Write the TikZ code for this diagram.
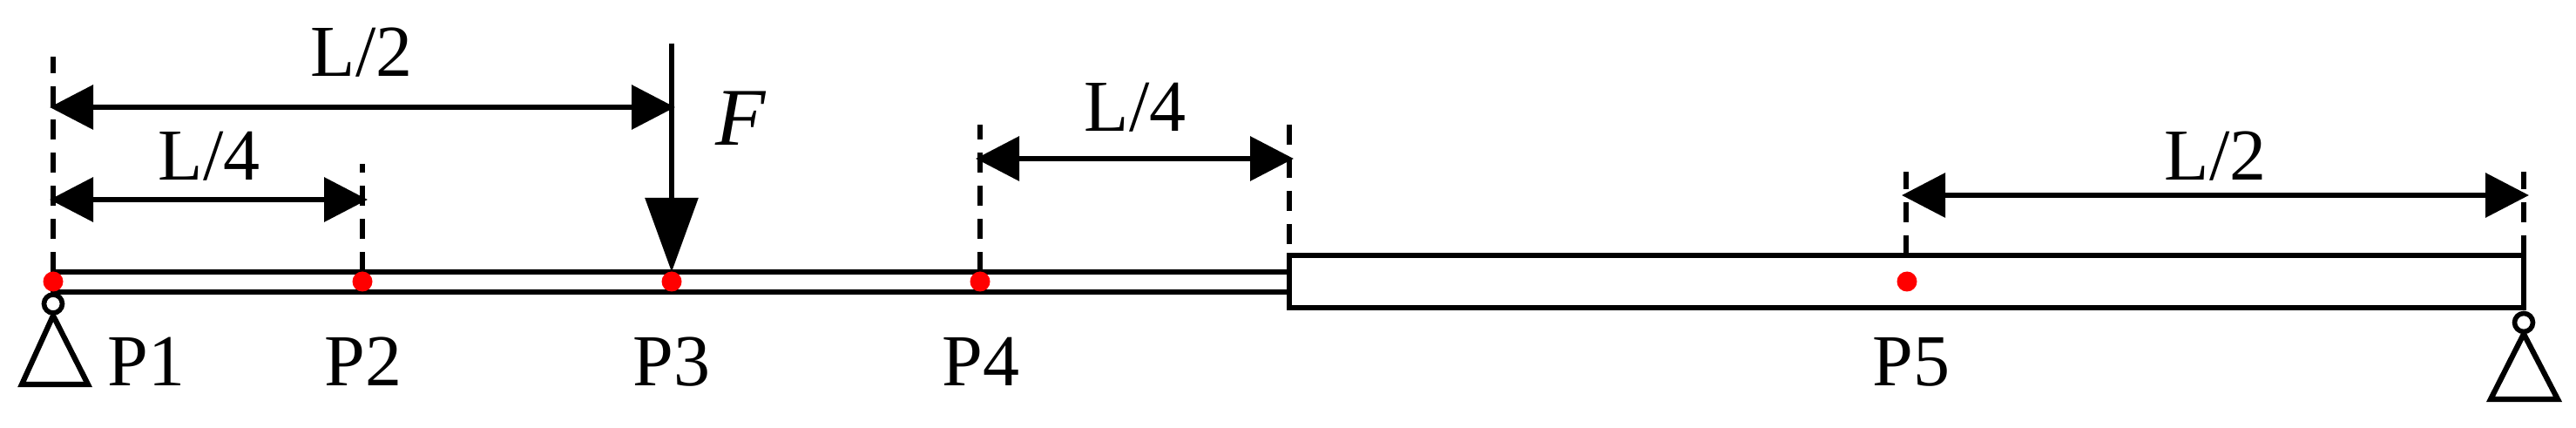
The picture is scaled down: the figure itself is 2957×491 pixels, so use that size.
\documentclass[tikz,border=0pt]{standalone}
\usepackage{fontspec}
\setmainfont{Liberation Serif}
\usetikzlibrary{arrows.meta}
\tikzset{
  lbl/.style={anchor=base,inner sep=0pt,font=\fontsize{42}{42}\selectfont},
  beamline/.style={line width=3.1pt,line cap=rect,line join=miter},
  guide/.style={line width=2.7pt,dash pattern=on 11.5pt off 7.5pt},
  dim/.style={line width=3.3pt,{Triangle[length=25pt,width=25pt]}-{Triangle[length=25pt,width=25pt]}},
  force/.style={line width=3pt,-{Triangle[length=42.5pt,width=30pt]}},
  sensor/.style={circle,fill=red,inner sep=0pt,minimum size=11.5pt},
  hinge/.style={circle,draw,fill=white,line width=2.8pt,inner sep=0pt,minimum size=10.5pt},
  support/.style={line width=3.1pt,line join=miter}
}
\begin{document}
\begin{tikzpicture}[x=0.5pt,y=-0.5pt]
\useasboundingbox (0,0) rectangle (2957,491);
% guides
\coordinate (g1b) at (61,312);   \coordinate (g1t) at (61,65);
\coordinate (g2b) at (416,312);  \coordinate (g2t) at (416,188);
\coordinate (g4b) at (1125,312); \coordinate (g4t) at (1125,143);
\coordinate (g5b) at (1480,293); \coordinate (g5t) at (1480,143);
\coordinate (g6b) at (2188,293); \coordinate (g6t) at (2188,197);
\coordinate (g7b) at (2897,293); \coordinate (g7t) at (2897,197);
\foreach \g in {1,2,4,6,7} \draw[guide] (g\g b) -- (g\g t);
\draw[guide] (g5t) -- (g5b);
% beams
\coordinate (tl) at (61,312);   \coordinate (tr) at (1480,312);
\coordinate (bl) at (61,335);   \coordinate (br) at (1480,335);
\coordinate (wa) at (1480,293); \coordinate (wb) at (2897,353);
\draw[beamline] (tl) -- (tr);
\draw[beamline] (bl) -- (br);
\draw[beamline] (wa) rectangle (wb);
% dimension arrows
\coordinate (d1a) at (57,123);   \coordinate (d1b) at (775,123);
\coordinate (d2a) at (57,229);   \coordinate (d2b) at (422,229);
\coordinate (d3a) at (1120,182); \coordinate (d3b) at (1485,182);
\coordinate (d4a) at (2183,224); \coordinate (d4b) at (2903,224);
\draw[dim] (d1a) -- (d1b);
\draw[dim] (d2a) -- (d2b);
\draw[dim] (d3a) -- (d3b);
\draw[dim] (d4a) -- (d4b);
% force
\coordinate (fa) at (771,50); \coordinate (fb) at (771,312);
\draw[force] (fa) -- (fb);
% supports
\coordinate (s1a) at (61,362);  \coordinate (s1b) at (25,441);  \coordinate (s1c) at (101,441);
\coordinate (s2a) at (2897,383);\coordinate (s2b) at (2859,458);\coordinate (s2c) at (2936,458);
\draw[support] (s1a) -- (s1b) -- (s1c) -- cycle;
\draw[support] (s2a) -- (s2b) -- (s2c) -- cycle;
\node[hinge] (h1) at (61,348.5) {};
\node[hinge] (h2) at (2897,370) {};
% sensors
\node[sensor] (p1) at (61,323) {};
\node[sensor] (p2) at (416,323) {};
\node[sensor] (p3) at (771,323) {};
\node[sensor] (p4) at (1125,323) {};
\node[sensor] (p5) at (2189,323) {};
% labels
\node[lbl] (t1) at (415,88) {L/2};
\node[lbl] (t2) at (240,207) {L/4};
\node[lbl] (t3) at (1303,151) {L/4};
\node[lbl] (t4) at (2543,207) {L/2};
\node[lbl,font=\fontsize{47}{47}\selectfont] (tf) at (850,167) {\itshape F};
\node[lbl] (l1) at (168,443) {P1};
\node[lbl] (l2) at (417,443) {P2};
\node[lbl] (l3) at (771,443) {P3};
\node[lbl] (l4) at (1126,443) {P4};
\node[lbl] (l5) at (2194,443) {P5};
\end{tikzpicture}
\end{document}
